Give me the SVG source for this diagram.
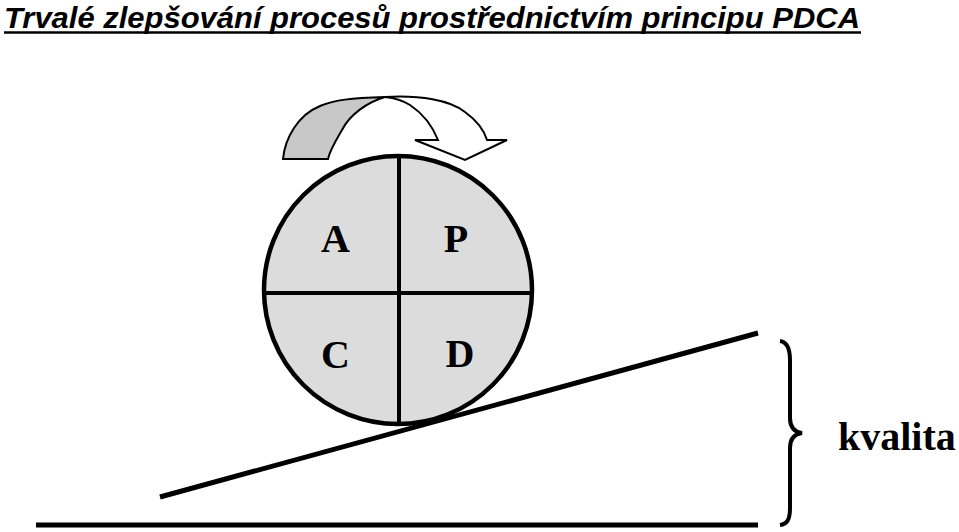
<svg xmlns="http://www.w3.org/2000/svg" width="959" height="532" viewBox="0 0 959 532">
<style>
.title{font-family:"Liberation Sans",Arial,sans-serif;font-weight:bold;font-style:italic;font-size:29px;fill:#000}
.lbl{font-family:"Liberation Serif","Times New Roman",serif;font-weight:bold;font-size:40px;fill:#000}
.ln{stroke:#000;fill:none}
</style>
<rect width="959" height="532" fill="#fff"/>
<g id="title">
<text class="title" x="4" y="28" textLength="856" lengthAdjust="spacingAndGlyphs">Trvalé zlepšování procesů prostřednictvím principu PDCA</text>
<line x1="4" y1="32.5" x2="861" y2="32.5" stroke="#000" stroke-width="2.5"/>
</g>
<g id="cycle-arrow">
<path d="M283,159 C285,138 298,115 320,106 C335,100 350,98 385,97 C368,102 350,114 342,130 C335,142 330,150 328,159 Z" fill="#c8c8c8" stroke="#000" stroke-width="2"/>
<path d="M385,97 C420,95 450,100 465,112 C476,120 484,130 487,140 L507,140 L465,160 L415,140 L438,140 C432,125 422,113 410,105 C402,100 394,98 385,97 Z" fill="#fff" stroke="#000" stroke-width="2"/>
</g>
<g id="pdca-wheel">
<circle cx="398" cy="290" r="134" fill="#dcdcdc" stroke="#000" stroke-width="4.5"/>
<line class="ln" x1="399" y1="156" x2="399" y2="424" stroke-width="4"/>
<line class="ln" x1="264" y1="293" x2="532" y2="293" stroke-width="4"/>
<text class="lbl" x="335.5" y="252" text-anchor="middle">A</text>
<text class="lbl" x="456" y="252" text-anchor="middle">P</text>
<text class="lbl" x="335.5" y="368" text-anchor="middle">C</text>
<text class="lbl" x="460" y="367" text-anchor="middle">D</text>
</g>
<g id="connectors">
<line class="ln" x1="160" y1="497" x2="758" y2="333" stroke-width="5"/>
<line class="ln" x1="36" y1="525" x2="758" y2="525" stroke-width="5"/>
<path class="ln" stroke-width="4" d="M780,341 C787,342 790,348 790,360 L790,418 C790,428 795,432 802,433 C795,434 790,438 790,448 L790,508 C790,520 787,524 780,525"/>
</g>
<g id="kvalita">
<text class="lbl" x="838" y="450">kvalita</text>
</g>
</svg>
